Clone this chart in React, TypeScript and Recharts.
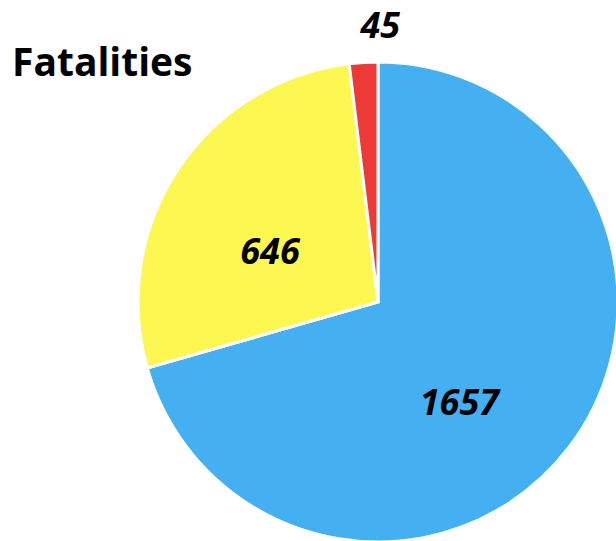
import { Pie, PieChart, Cell } from 'recharts';

const categories = ['Blue', 'Yellow', 'Red'];
const fatalities = [1657, 646, 45];
const sliceColors = ['#44B0F1', '#FDF752', '#EE3A37'];

const data = categories.map((name, i) => ({ name, value: fatalities[i] }));

// small hand nudges so labels sit where the original placed them
const labelNudge = [
  [-24, 20],
  [2, 22],
  [19, 0],
];

const RAD = Math.PI / 180;

function renderLabel(props: any) {
  const { cx, cy, midAngle, outerRadius, index, value } = props;
  const outside = value / fatalities.reduce((a, b) => a + b, 0) < 0.05;
  const r = outside ? outerRadius + 38 : outerRadius * 0.55;
  const x = cx + r * Math.cos(-midAngle * RAD) + labelNudge[index][0];
  const y = cy + r * Math.sin(-midAngle * RAD) + labelNudge[index][1];
  return (
    <text
      x={x}
      y={y}
      textAnchor="middle"
      dominantBaseline="central"
      fontFamily="'Open Sans', sans-serif"
      fontWeight="bold"
      fontStyle="italic"
      fontSize={36}
      fill="#000"
    >
      {value}
    </text>
  );
}

export default function App() {
  return (
    <div style={{ position: 'absolute', left: 0, top: 0, width: 616, height: 541, background: '#fff' }}>
      <PieChart width={616} height={541} margin={{ top: 0, right: 0, bottom: 0, left: 0 }}>
        <text
          x={12}
          y={76}
          fontFamily="'Open Sans', sans-serif"
          fontWeight="bold"
          fontSize={39}
          fill="#000"
        >
          Fatalities
        </text>
        <Pie
          data={data}
          dataKey="value"
          nameKey="name"
          cx={378}
          cy={302}
          outerRadius={240}
          startAngle={90}
          endAngle={-270}
          stroke="#fff"
          strokeWidth={3}
          label={renderLabel}
          labelLine={false}
          isAnimationActive={false}
        >
          {data.map((d, i) => (
            <Cell key={d.name} fill={sliceColors[i]} />
          ))}
        </Pie>
      </PieChart>
    </div>
  );
}
